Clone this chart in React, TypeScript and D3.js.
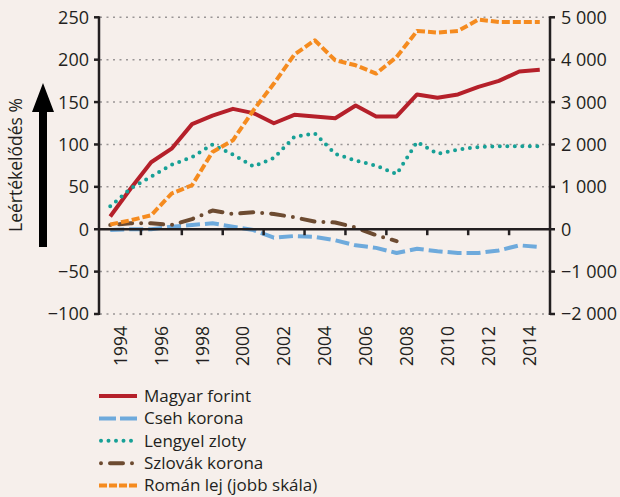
import React from "react";
import * as d3 from "d3";

// years on the category axis
const years = d3.range(1994, 2016);
const yearLabels = [1994, 1996, 1998, 2000, 2002, 2004, 2006, 2008, 2010, 2012, 2014];

// left scale (%)
const forint = [15, 48, 79, 95, 124, 134, 142, 137, 125, 135, 133, 131, 146, 133, 133, 159, 155, 159, 168, 175, 186, 188];
const cseh = [-1, 0, 0, 3, 5, 7, 3, -1, -10, -8, -9, -13, -19, -22, -28, -23, -26, -28, -28, -25, -19, -21];
const zloty = [27, 48, 62, 76, 85, 100, 88, 74, 84, 109, 113, 89, 81, 75, 65, 103, 89, 94, 97, 98, 98, 98];
const szlovak = [5, 7, 7, 5, 12, 22, 18, 20, 18, 14, 9, 8, 2, -7, -14];
// right scale (jobb skála)
const lej = [110, 212, 330, 842, 1038, 1823, 2099, 2806, 3436, 4120, 4458, 3986, 3868, 3672, 4064, 4677, 4639, 4677, 4945, 4890, 4890, 4890];

const leftTicks = [250, 200, 150, 100, 50, 0, -50, -100];
const rightTicks = [5000, 4000, 3000, 2000, 1000, 0, -1000, -2000];

const ink = "#231f20";
const font = "'Open Sans', sans-serif";

const series = [
  { name: "Magyar forint", values: forint, axis: "L", color: "#b5202a", dash: "none", cap: "butt" },
  { name: "Cseh korona", values: cseh, axis: "L", color: "#6eaadc", dash: "14,5", cap: "butt" },
  { name: "Lengyel zloty", values: zloty, axis: "L", color: "#17a096", dash: "0,7.5", cap: "round" },
  { name: "Szlovák korona", values: szlovak, axis: "L", color: "#6d4b31", dash: "0,9,13,9", cap: "round" },
  { name: "Román lej (jobb skála)", values: lej, axis: "R", color: "#f58b1f", dash: "8,3", cap: "butt" },
];

const fmt = (v: number) => {
  const s = d3.format(",")(Math.abs(v)).replace(/,/g, " ");
  return (v < 0 ? "\u2212" : "") + s;
};

export default function App() {
  const width = 620;
  const height = 497;
  const left = 100;
  const right = 550;

  const x = d3.scaleBand<number>().domain(years).range([left, right]);
  const cx = (i: number) => (x(years[i]) as number) + x.bandwidth() / 2;
  const yL = d3.scaleLinear().domain([-100, 250]).range([314, 17.3]);
  const yR = d3.scaleLinear().domain([-2000, 5000]).range([314, 17.3]);

  const lineFor = (axis: string) =>
    d3
      .line<number>()
      .x((_, i) => cx(i))
      .y(d => (axis === "L" ? yL(d) : yR(d)));

  const tickYears = years.filter((y, i) => i > 0 && i % 2 === 0);

  return (
    <svg width={width} height={height} style={{ position: "absolute", left: 0, top: 0 }} fontFamily={font}>
      <rect width={width} height={height} fill="#f6efeb" />

      {/* grid */}
      {leftTicks
        .filter(t => t !== 0)
        .map(t => (
          <line key={t} x1={left} x2={right} y1={yL(t)} y2={yL(t)} stroke="#9a9696" strokeWidth={1.5} strokeDasharray="2,4.5" />
        ))}

      {/* series */}
      {series.map(s => (
        <path
          key={s.name}
          d={lineFor(s.axis)(s.values) as string}
          fill="none"
          stroke={s.color}
          strokeWidth={4}
          strokeDasharray={s.dash}
          strokeLinecap={s.cap as any}
          strokeLinejoin="round"
        />
      ))}

      {/* zero line + x ticks */}
      <line x1={left - 1} x2={right} y1={yL(0)} y2={yL(0)} stroke={ink} strokeWidth={2.5} />
      {tickYears.map(y => (
        <line key={y} x1={x(y)} x2={x(y)} y1={yL(0)} y2={yL(0) + 6} stroke={ink} strokeWidth={2.5} />
      ))}

      {/* left axis */}
      <line x1={left - 1} x2={left - 1} y1={yL(250) - 1} y2={yL(-100) + 1} stroke={ink} strokeWidth={2.5} />
      {leftTicks.map(t => (
        <g key={t}>
          <line x1={left - 6} x2={left - 1} y1={yL(t)} y2={yL(t)} stroke={ink} strokeWidth={2.5} />
          <text x={89} y={yL(t)} dy="0.36em" textAnchor="end" fontSize={18} fill={ink}>
            {fmt(t)}
          </text>
        </g>
      ))}

      {/* right axis */}
      <line x1={right} x2={right} y1={yR(5000) - 1} y2={yR(-2000) + 1} stroke={ink} strokeWidth={2.5} />
      {rightTicks.map(t => (
        <g key={t}>
          <line x1={right} x2={right + 5} y1={yR(t)} y2={yR(t)} stroke={ink} strokeWidth={2.5} />
          <text x={561} y={yR(t)} dy="0.36em" fontSize={18} fill={ink}>
            {fmt(t)}
          </text>
        </g>
      ))}

      {/* x labels */}
      {yearLabels.map(y => (
        <text
          key={y}
          transform={`translate(${(x(y) as number) + x.bandwidth()},326) rotate(-90)`}
          dy="0.36em"
          textAnchor="end"
          fontSize={17.5}
          fill={ink}
        >
          {y}
        </text>
      ))}

      {/* y title and arrow */}
      <text transform="translate(16,165) rotate(-90)" dy="0.36em" textAnchor="middle" fontSize={17.5} fill={ink}>
        Leértékelődés %
      </text>
      <path d="M39,247 L39,112 L32,112 L43,83 L54,112 L47,112 L47,247 Z" fill="#000" />

      {/* legend */}
      {series.map((s, i) => {
        const ly = 396 + i * 22.4;
        return (
          <g key={s.name}>
            <line
              x1={s.cap === "round" ? 101 : 99}
              x2={s.cap === "round" ? 136 : 137}
              y1={ly}
              y2={ly}
              stroke={s.color}
              strokeWidth={4}
              strokeDasharray={s.name === "Cseh korona" ? "17,4" : s.name === "Román lej (jobb skála)" ? "8,2" : s.dash}
              strokeLinecap={s.cap as any}
            />
            <text x={144} y={ly} dy="0.34em" fontSize={17} fill={ink}>
              {s.name}
            </text>
          </g>
        );
      })}
    </svg>
  );
}
